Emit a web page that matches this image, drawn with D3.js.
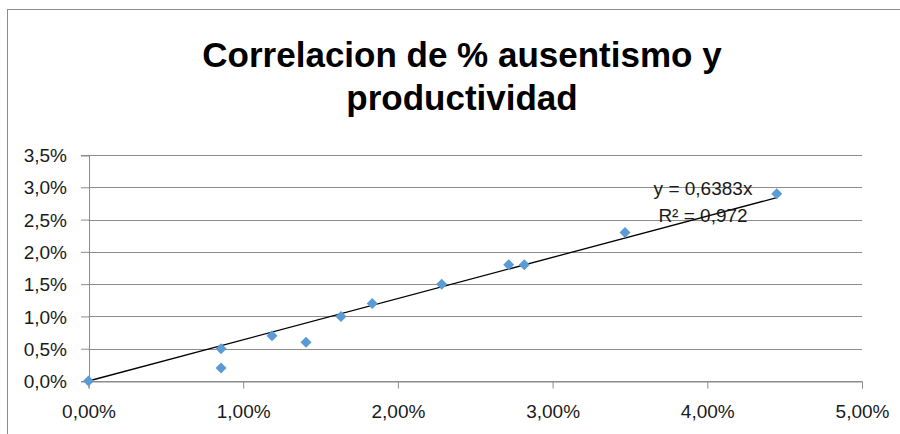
<!DOCTYPE html>
<html>
<head>
<meta charset="utf-8">
<script src="https://cdn.jsdelivr.net/npm/d3@7"></script>
<style>
  body { margin: 0; background: #fff; }
  svg { display: block; font-family: "Liberation Sans", Arial, sans-serif; }
</style>
</head>
<body>
<div id="vis"></div>
<script>
// data (percent values)
var ausentismo   = [0.00, 0.857, 0.857, 1.186, 1.406, 1.632, 1.834, 2.283, 2.716, 2.817, 3.468, 4.449];
var productividad = [0.0, 0.5, 0.2, 0.7, 0.6, 1.0, 1.2, 1.5, 1.8, 1.8, 2.3, 2.9];
var xTicks = [0, 1, 2, 3, 4, 5];
var yTicks = [0, 0.5, 1, 1.5, 2, 2.5, 3, 3.5];
var slope = 0.6383;
var titleLines = ["Correlacion de % ausentismo y", "productividad"];
var eqLines = ["y = 0,6383x", "R² = 0,972"];

var W = 900, H = 434;
var margin = {top: 155, right: 38, bottom: 53, left: 88.5};
var width = 862 - margin.left,
    height = 381 - margin.top;

var svg = d3.select("#vis").append("svg")
  .attr("width", W)
  .attr("height", H);

// chart border
svg.append("rect")
  .attr("x", 7.5).attr("y", 9.5)
  .attr("width", 1000).attr("height", 1000)
  .attr("fill", "none")
  .attr("stroke", "#8c8c8c");

svg.append("g")
  .attr("font-weight", "bold")
  .attr("font-size", 35)
  .attr("text-anchor", "middle")
  .attr("fill", "#000")
  .selectAll("text")
  .data(titleLines)
  .enter().append("text")
  .attr("x", 462)
  .attr("y", function(d, i) { return 67 + i * 43; })
  .text(function(d) { return d; });

var g = svg.append("g")
  .attr("transform", "translate(" + margin.left + "," + margin.top + ")");

var x = d3.scaleLinear().domain([0, 5]).range([0, width]);
var y = d3.scaleLinear().domain([0, 3.5]).range([height, 0]);

var fmtX = function(d) { return d.toFixed(2).replace(".", ",") + "%"; };
var fmtY = function(d) { return d.toFixed(1).replace(".", ",") + "%"; };

// gridlines
g.append("g")
  .selectAll("line")
  .data(yTicks)
  .enter().append("line")
  .attr("x1", 0).attr("x2", width)
  .attr("y1", function(d) { return Math.round(y(d)) + 0.5; })
  .attr("y2", function(d) { return Math.round(y(d)) + 0.5; })
  .attr("stroke", "#8c8c8c");

var yAxis = g.append("g")
  .attr("transform", "translate(0.5,0.5)")
  .call(d3.axisLeft(y).tickValues(yTicks).tickFormat(fmtY).tickSize(8).tickPadding(14));

var xAxis = g.append("g")
  .attr("transform", "translate(0," + (height + 0.5) + ")")
  .call(d3.axisBottom(x).tickValues(xTicks).tickFormat(fmtX).tickSize(7).tickPadding(16));

[yAxis, xAxis].forEach(function(a) {
  a.selectAll("path.domain").attr("stroke", "#8c8c8c");
  a.selectAll(".tick line").attr("stroke", "#8c8c8c");
  a.selectAll("text")
    .attr("font-family", "Liberation Sans, Arial, sans-serif")
    .attr("font-size", 19)
    .attr("fill", "#1a1a1a");
});
yAxis.selectAll(".tick line").attr("y1", -0.5).attr("y2", -0.5);

// trendline through origin
var xMax = d3.max(ausentismo);
g.append("line")
  .attr("x1", x(0)).attr("y1", y(0))
  .attr("x2", x(xMax)).attr("y2", y(slope * xMax))
  .attr("stroke", "#000")
  .attr("stroke-width", 1.3);

// points
var diamond = "M0,-5.5L5.5,0L0,5.5L-5.5,0Z";
g.append("g")
  .selectAll("path")
  .data(ausentismo)
  .enter().append("path")
  .attr("d", diamond)
  .attr("transform", function(d, i) { return "translate(" + x(d) + "," + y(productividad[i]) + ")"; })
  .attr("fill", "#5b9bd5");

// trendline equation
svg.append("g")
  .attr("font-size", 19)
  .attr("text-anchor", "middle")
  .attr("fill", "#1a1a1a")
  .selectAll("text")
  .data(eqLines)
  .enter().append("text")
  .attr("x", 703)
  .attr("y", function(d, i) { return 195 + i * 27; })
  .text(function(d) { return d; });
</script>
</body>
</html>
